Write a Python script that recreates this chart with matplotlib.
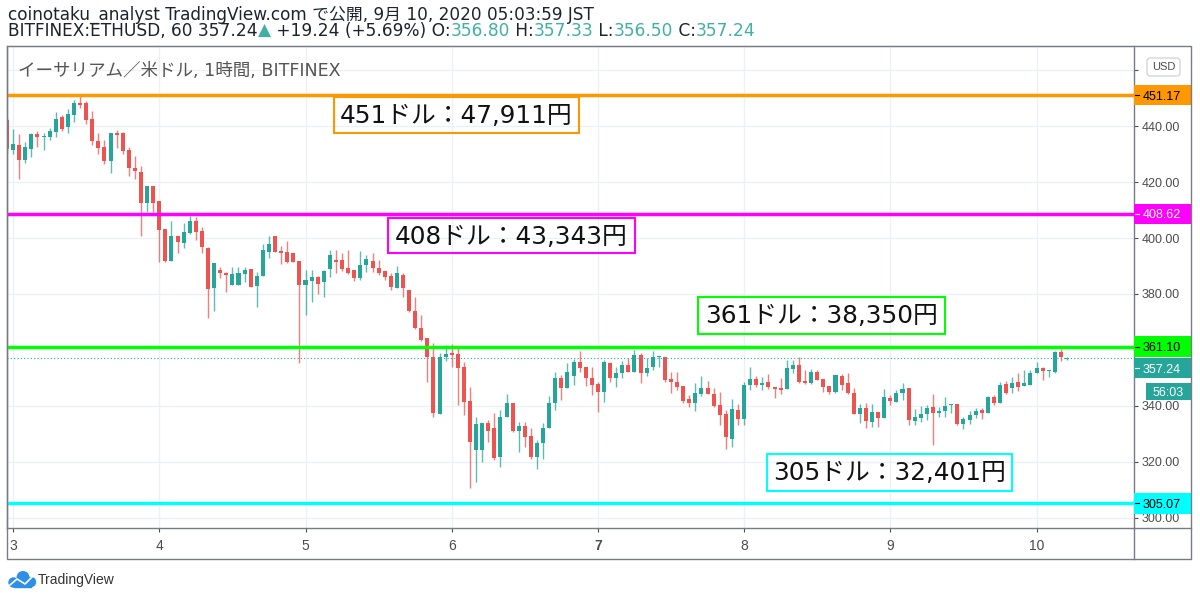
import matplotlib
matplotlib.use('Agg')
import matplotlib.pyplot as plt
from matplotlib.patches import Rectangle, Circle, FancyBboxPatch
from matplotlib.lines import Line2D

plt.rcParams['font.family'] = ['DejaVu Sans', 'Noto Sans CJK JP']

# ---------------- data ----------------
hours = list(range(-1, 174))  # hourly candles, 0 = Sep 3 00:00
opens = [442.2, 431.5, 433.3, 427.9, 431.9, 437.2, 436.1, 436.1, 437.9, 443.3,
         439.7, 444.0, 448.3, 448.3, 442.6, 434.7, 432.6, 427.6, 437.6, 437.6,
         431.5, 425.0, 423.6, 412.5, 418.6, 413.2, 403.2, 391.8, 400.7, 398.2,
         401.8, 406.1, 402.5, 396.4, 382.1, 388.6, 387.5, 383.2, 383.2, 387.1,
         389.0, 382.9, 386.4, 395.0, 400.7, 395.4, 395.0, 394.6, 391.8, 383.2,
         384.6, 386.0, 384.3, 388.9, 392.1, 392.1, 389.3, 388.6, 385.7, 390.3,
         391.8, 389.3, 388.2, 386.4, 382.1, 386.8, 381.4, 373.9, 367.8, 364.2,
         357.4, 337.0, 357.4, 358.8, 358.5, 353.9, 341.7, 324.2, 324.2, 333.8,
         332.0, 321.6, 335.9, 341.0, 331.0, 332.7, 329.2, 321.6, 326.6, 332.0,
         341.0, 349.9, 346.3, 350.6, 355.6, 353.9, 349.9, 347.8, 344.9, 355.3,
         349.9, 351.7, 354.6, 352.1, 358.1, 351.7, 353.9, 357.4, 357.4, 349.6,
         348.5, 347.0, 342.4, 341.0, 344.2, 346.3, 344.2, 340.2, 337.0, 328.1,
         338.5, 335.3, 347.4, 349.6, 347.4, 348.5, 346.7, 346.3, 346.0, 353.2,
         354.6, 348.8, 348.1, 352.1, 349.6, 347.0, 344.9, 350.6, 348.1, 344.5,
         337.0, 339.2, 334.2, 337.8, 335.6, 342.8, 341.3, 344.5, 346.3, 334.5,
         335.6, 337.0, 339.5, 337.4, 338.1, 340.4, 340.6, 333.4, 334.9, 336.7,
         338.5, 337.4, 343.1, 340.9, 347.8, 346.3, 348.5, 347.0, 347.4, 351.7,
         353.5, 352.5, 352.1, 359.2, 356.8]
highs = [443.0, 439.0, 437.2, 434.4, 437.6, 438.3, 437.6, 439.4, 445.1, 444.0,
         446.2, 449.4, 451.0, 449.0, 445.4, 437.6, 435.0, 437.6, 438.7, 438.0,
         432.6, 429.4, 425.8, 418.6, 418.6, 413.2, 403.2, 406.1, 400.7, 405.4,
         407.9, 407.5, 403.9, 396.8, 391.0, 389.7, 387.9, 389.7, 389.7, 389.7,
         389.0, 387.9, 397.9, 400.7, 400.7, 397.2, 398.9, 394.6, 391.8, 388.6,
         388.6, 386.4, 388.6, 395.7, 395.7, 394.6, 395.7, 388.6, 395.4, 393.9,
         394.6, 392.0, 388.2, 387.5, 390.0, 387.5, 381.4, 379.0, 372.5, 364.2,
         362.4, 359.0, 361.7, 362.0, 360.6, 355.6, 346.7, 335.9, 333.8, 334.9,
         337.4, 338.5, 344.2, 341.0, 334.2, 334.2, 332.0, 327.7, 333.8, 343.4,
         352.1, 351.0, 355.3, 356.7, 359.6, 353.9, 353.9, 348.5, 356.4, 355.6,
         353.9, 356.0, 357.0, 359.9, 358.8, 357.1, 359.6, 357.8, 357.4, 352.1,
         352.1, 347.0, 343.8, 348.1, 350.6, 349.0, 346.3, 344.9, 338.5, 342.4,
         340.6, 348.5, 353.9, 350.6, 350.3, 351.4, 346.7, 349.9, 356.4, 356.4,
         357.4, 352.8, 353.2, 352.8, 349.6, 347.0, 351.0, 351.4, 351.7, 346.3,
         340.6, 341.0, 340.6, 337.8, 346.0, 343.8, 345.6, 348.1, 346.3, 338.8,
         339.9, 340.2, 344.2, 339.5, 343.1, 340.8, 340.6, 336.0, 338.1, 339.2,
         339.2, 343.4, 343.8, 348.5, 348.8, 350.3, 351.7, 352.8, 352.8, 355.6,
         353.9, 352.8, 359.6, 360.2, 357.33]
lows = [430.5, 430.0, 421.0, 426.8, 429.0, 432.6, 431.5, 435.0, 436.1, 438.3,
        437.6, 441.5, 446.5, 440.8, 433.3, 430.0, 426.5, 423.3, 432.2, 430.0,
        422.2, 421.0, 400.7, 409.3, 409.3, 391.4, 391.4, 391.8, 394.6, 396.4,
        401.4, 399.3, 394.6, 371.4, 373.9, 385.7, 380.7, 383.2, 383.2, 384.3,
        382.5, 375.3, 386.4, 392.8, 395.0, 390.7, 391.0, 391.4, 355.3, 372.5,
        377.1, 380.0, 378.9, 386.0, 387.5, 388.2, 387.0, 384.6, 385.0, 387.9,
        387.9, 386.8, 385.0, 381.4, 382.1, 379.0, 373.5, 367.5, 363.2, 348.5,
        336.0, 337.0, 356.0, 353.9, 340.2, 336.7, 310.5, 312.7, 319.9, 327.0,
        320.6, 318.0, 335.9, 330.6, 323.4, 325.2, 320.9, 317.3, 320.9, 332.0,
        338.5, 342.0, 346.3, 347.4, 352.1, 347.0, 343.8, 337.8, 341.3, 348.5,
        346.7, 349.9, 352.1, 352.1, 348.1, 350.6, 352.8, 353.9, 348.5, 344.5,
        345.6, 340.9, 339.5, 338.1, 343.4, 344.2, 339.5, 333.1, 324.5, 325.2,
        333.1, 333.1, 345.6, 346.7, 345.6, 346.0, 342.8, 344.2, 346.0, 351.7,
        348.1, 347.8, 347.8, 349.2, 344.9, 344.2, 344.5, 345.6, 344.2, 337.0,
        333.8, 332.0, 332.4, 332.4, 335.6, 340.2, 341.3, 342.0, 333.1, 333.1,
        334.2, 334.9, 326.0, 336.0, 336.0, 337.4, 333.1, 331.7, 333.4, 335.6,
        335.3, 337.4, 340.2, 340.9, 344.2, 344.5, 345.2, 347.0, 347.4, 351.7,
        349.2, 350.3, 351.7, 356.2, 356.5]
closes = [431.9, 433.6, 427.9, 432.6, 437.2, 436.1, 436.6, 438.3, 442.6, 439.0,
          444.4, 448.3, 447.6, 442.2, 434.7, 432.2, 427.6, 437.6, 436.9, 431.1,
          425.0, 424.0, 412.5, 418.6, 412.5, 402.9, 391.8, 400.7, 398.6, 402.2,
          406.1, 402.2, 396.8, 381.8, 391.0, 387.5, 386.8, 387.1, 387.5, 388.6,
          382.5, 386.4, 395.7, 397.9, 395.0, 394.6, 391.4, 391.4, 383.2, 385.0,
          386.0, 383.5, 388.2, 393.9, 391.4, 388.9, 387.5, 385.7, 390.3, 392.5,
          389.3, 387.5, 386.0, 382.5, 387.5, 382.1, 373.9, 367.8, 363.5, 357.4,
          337.4, 357.4, 358.5, 358.1, 353.5, 341.3, 327.0, 333.4, 333.8, 330.9,
          321.3, 335.9, 341.0, 331.0, 332.7, 328.8, 321.6, 326.6, 332.0, 341.0,
          349.9, 346.3, 352.1, 355.6, 353.5, 349.9, 347.4, 344.9, 355.6, 349.9,
          351.7, 354.6, 352.1, 358.1, 351.7, 353.5, 357.4, 357.8, 349.2, 348.5,
          346.7, 341.7, 341.0, 344.5, 346.3, 344.2, 339.9, 336.7, 328.8, 338.8,
          335.3, 347.4, 349.6, 347.4, 348.1, 346.7, 346.0, 345.6, 353.5, 354.6,
          348.5, 348.1, 352.1, 349.2, 346.7, 344.9, 351.0, 347.4, 344.5, 337.0,
          339.2, 334.5, 337.8, 335.6, 343.1, 341.7, 344.5, 346.0, 334.9, 336.0,
          337.0, 339.2, 337.4, 338.1, 339.9, 340.6, 333.4, 335.3, 336.7, 338.1,
          337.4, 343.1, 340.9, 347.4, 344.5, 348.1, 346.7, 348.1, 351.7, 353.5,
          352.5, 352.8, 359.2, 357.4, 357.24]

day_ticks = [0, 24, 48, 72, 96, 120, 144, 168]
day_labels = ['3', '4', '5', '6', '7', '8', '9', '10']
price_ticks = [300, 320, 340, 360, 380, 400, 420, 440, 460]
hidden_price_labels = [360, 460]  # covered by price boxes in the reference

level_prices = [451.17, 408.62, 361.10, 305.07]
level_colors = ['#ff9800', '#ff00ff', '#00ff00', '#00ffff']
level_text_colors = ['#000000', '#ffffff', '#000000', '#000000']
annotations = ['451ドル：47,911円', '408ドル：43,343円', '361ドル：38,350円', '305ドル：32,401円']
last_price = 357.24
countdown = '56:03'

header1 = 'coinotaku_analyst TradingView.com で公開, 9月 10, 2020 05:03:59 JST'
header2 = [('BITFINEX:ETHUSD, 60 357.24', 'k'), ('▲', 't'), (' +19.24 (+5.69%) O:', 'k'),
           ('356.80', 't'), (' H:', 'k'), ('357.33', 't'), (' L:', 'k'), ('356.50', 't'),
           (' C:', 'k'), ('357.24', 't')]
chart_title = 'イーサリアム／米ドル, 1時間, BITFINEX'

# ---------------- style ----------------
UP = '#26a69a'
DOWN = '#ef5350'
GRID = '#edf0f5'
FRAME = '#787b86'
AXTXT = '#4c4c4c'
TEAL_TXT = '#3fb0a4'
DARK = '#1e222d'
NUMFONT = ['Liberation Sans', 'DejaVu Sans']

W, H = 1200, 601
fig = plt.figure(figsize=(W / 100, H / 100), dpi=100)
fig.patch.set_facecolor('white')
PX = fig.dpi_scale_trans
r = fig.canvas.get_renderer()


def P(px, py):
    return (px / 100.0, (H - py) / 100.0)


def fit_size(text, size, target_px, **kw):
    t = fig.text(0, 0, text, fontsize=size, **kw)
    w = t.get_window_extent(renderer=r).width
    t.remove()
    return size * target_px / w


ax_l, ax_r, ax_t, ax_b = 7, 1134, 46, 527.7
ax = fig.add_axes([ax_l / W, 1 - ax_b / H, (ax_r - ax_l) / W, (ax_b - ax_t) / H])
ax.set_xlim(-1.0, 184.0)
ax.set_ylim(296.4, 468.7)

# grid / ticks
ax.set_axisbelow(True)
ax.set_xticks(day_ticks)
ax.set_xticklabels(day_labels)
ax.set_yticks(price_ticks)
ax.set_yticklabels(['' if v in hidden_price_labels else f'{v:.2f}' for v in price_ticks])
ax.grid(True, color=GRID, lw=1.0)
ax.yaxis.tick_right()
ax.tick_params(axis='y', direction='out', length=3, width=0.8, color=AXTXT,
               labelcolor=AXTXT, labelsize=9, pad=2.3)
ax.tick_params(axis='x', direction='out', length=3, width=0.8, color=AXTXT,
               labelcolor=AXTXT, labelsize=10, pad=5.0)
for lab in ax.get_yticklabels() + ax.get_xticklabels():
    lab.set_family(NUMFONT)
for lab in ax.get_xticklabels():
    if lab.get_text() == '7':
        lab.set_fontweight('bold')

for s in ['left', 'right', 'bottom']:
    ax.spines[s].set_color(FRAME)
    ax.spines[s].set_linewidth(1.0)
ax.spines['top'].set_color('#d6d9e0')
ax.spines['top'].set_linewidth(1.0)

# candles
for x, o, h, l, c in zip(hours, opens, highs, lows, closes):
    col = UP if c >= o else DOWN
    ax.vlines(x, l, h, color=col, lw=1.0, alpha=0.75, zorder=2)
    body = max(abs(c - o), 0.4)
    ax.bar(x, body, bottom=min(o, c), width=0.66, color=col, lw=0, zorder=2.5)

# level lines
for p, col in zip(level_prices, level_colors):
    ax.axhline(p, color=col, lw=2.5, zorder=3)
ax.axhline(last_price, color=UP, lw=0.8, ls=(0, (1, 2)), zorder=3)

# annotation boxes (pixel layout)
ann_boxes = [(334, 97, 579, 133), (388, 218, 635, 253), (698, 297, 945, 334), (767, 454, 1012, 491)]
ann_size = fit_size(annotations[0], 18, 233)
for (x0, y0, x1, y1), txt, col in zip(ann_boxes, annotations, level_colors):
    fig.add_artist(Rectangle(P(x0, y1), (x1 - x0) / 100, (y1 - y0) / 100, transform=PX,
                             fill=False, edgecolor=col, lw=1.5))
    fig.text((x0 + x1) / 2 / W, 1 - (y0 + 26.3) / H, txt, ha='center', va='baseline',
             fontsize=ann_size, color='#111111')

# right price labels
fig.canvas.draw()


def disp_y(p):
    return ax.transData.transform((0, p))[1]


for p, col, tc in zip(level_prices, level_colors, level_text_colors):
    dy = disp_y(p)
    fig.add_artist(Rectangle((1134 / 100, (dy - 10.4) / 100), 0.57, 0.208, transform=PX,
                             facecolor=col, edgecolor='none'))
    fig.add_artist(Line2D([1135 / 100, 1139 / 100], [dy / 100, dy / 100], transform=PX, color=tc, lw=0.8))
    fig.text(1142.5 / 100, dy / 100, f'{p:.2f}', transform=PX, ha='left', va='center_baseline',
             fontsize=9, color=tc, family=NUMFONT)

dy = disp_y(last_price) - 10.5
fig.add_artist(Rectangle((1134 / 100, (dy - 10.2) / 100), 0.57, 0.204, transform=PX,
                         facecolor=UP, edgecolor='none'))
fig.add_artist(Line2D([1135 / 100, 1139 / 100], [dy / 100, dy / 100], transform=PX, color='white', lw=0.8))
fig.text(1142.5 / 100, dy / 100, f'{last_price:.2f}', transform=PX, ha='left', va='center_baseline',
         fontsize=9, color='white', family=NUMFONT)
dy2 = disp_y(last_price) - 34
fig.add_artist(Rectangle((1146 / 100, (dy2 - 8.5) / 100), 0.45, 0.17, transform=PX,
                         facecolor=UP, edgecolor='none'))
fig.text(1168.5 / 100, dy2 / 100, countdown, transform=PX, ha='center', va='center_baseline',
         fontsize=9, color='white', family=NUMFONT)

# USD box
fig.add_artist(FancyBboxPatch(P(1147, 76), 0.33, 0.18, boxstyle='round,pad=0,rounding_size=0.03',
                              transform=PX, facecolor='white', edgecolor='#c9ccd4', lw=0.8))
fig.text(1163.5 / 100, (H - 66.5) / 100, 'USD', transform=PX, ha='center', va='center',
         fontsize=8, color=AXTXT, family=NUMFONT)

# outer frame and axis extensions
fig.add_artist(Rectangle(P(7, 559), (1191 - 7) / 100, (559 - 46) / 100, transform=PX,
                         fill=False, edgecolor=FRAME, lw=1.0))
fig.add_artist(Line2D([1134 / 100, 1134 / 100], [(H - 527.7) / 100, (H - 559) / 100], transform=PX,
                      color=FRAME, lw=1.0))
fig.add_artist(Line2D([1134 / 100, 1191 / 100], [(H - 527.7) / 100, (H - 527.7) / 100], transform=PX,
                      color=FRAME, lw=1.0))

# headers
h1 = fit_size(header1, 11, 585)
fig.text(8 / W, 1 - 19.5 / H, header1, ha='left', va='baseline', fontsize=h1, color=DARK)
h2 = fit_size(''.join(s for s, _ in header2), 11, 748)
xcur = 8
for s, c in header2:
    t = fig.text(xcur / W, 1 - 36.0 / H, s, ha='left', va='baseline', fontsize=h2,
                 color=(DARK if c == 'k' else TEAL_TXT))
    bb = t.get_window_extent(renderer=r)
    xcur = bb.x1
ht = fit_size(chart_title, 10.5, 324)
fig.text(18 / W, 1 - 76 / H, chart_title, ha='left', va='baseline', fontsize=ht, color='#555555')

# TradingView logo
LOGO = '#2f8fe6'
fig.add_artist(Circle(P(23, 577.5), 0.058, transform=PX, color=LOGO))
fig.add_artist(Circle(P(13.5, 582.5), 0.045, transform=PX, color=LOGO))
fig.add_artist(Circle(P(31, 582), 0.045, transform=PX, color=LOGO))
fig.add_artist(Rectangle(P(13.5, 587), 0.175, 0.05, transform=PX, color=LOGO))
fig.add_artist(Line2D([10 / 100, 17 / 100, 25 / 100, 33 / 100],
                      [(H - 585) / 100, (H - 579) / 100, (H - 584) / 100, (H - 576) / 100],
                      transform=PX, color='white', lw=1.2))
fig.text(38 / W, 1 - 580 / H, 'TradingView', ha='left', va='center', fontsize=10, color='#333333',
         family=NUMFONT)

fig.savefig('out.png', dpi=100)
